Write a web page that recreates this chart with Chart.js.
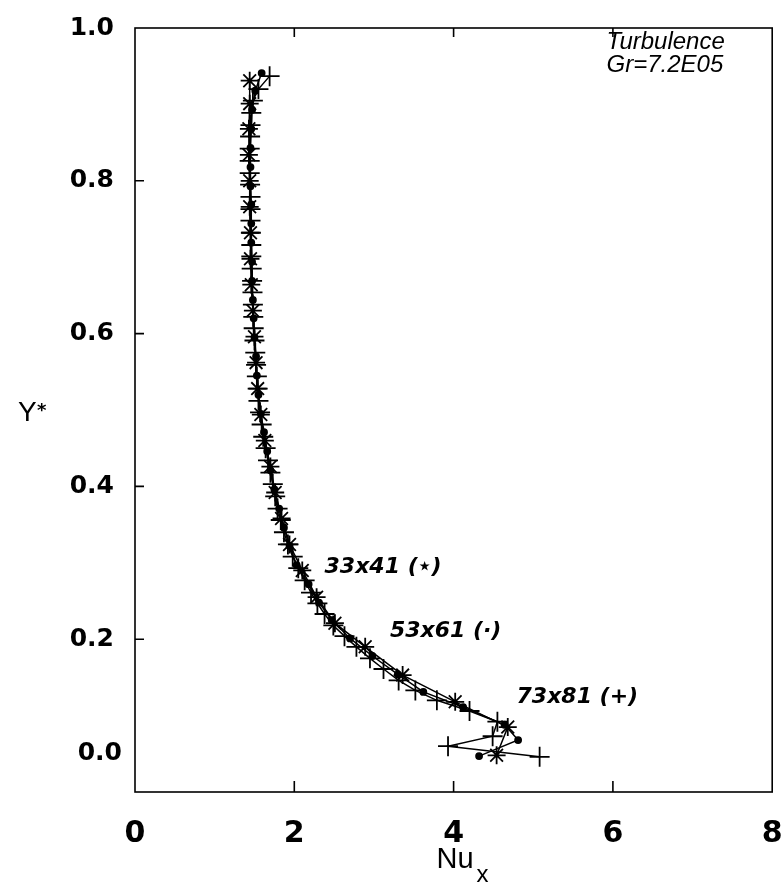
<!DOCTYPE html>
<html lang="en">
<head>
<meta charset="UTF-8" />
<title>Nu_x - Y*</title>
<script src="https://cdn.jsdelivr.net/npm/chart.js@4.4.0/dist/chart.umd.min.js"></script>
<style>
  html, body { margin: 0; padding: 0; background: #fff; }
  #grafico { display: block; }
</style>
</head>
<body>
<canvas id="grafico" width="784" height="888"></canvas>
<script>
// eje x: Nu_x, eje y: Y*
var xTicks = [0, 2, 4, 6, 8];
var yTicks = [0, 0.2, 0.4, 0.6, 0.8, 1.0];
var mallas = ["33x41 (\u22c6)", "53x61 (\u00b7)", "73x81 (+)"];

// malla 33x41 (*)
var starY = [0.048, 0.085, 0.118, 0.153, 0.190, 0.221, 0.255, 0.290, 0.324, 0.358, 0.392, 0.426, 0.460, 0.494,
  0.528, 0.562, 0.596, 0.630, 0.664, 0.698, 0.732, 0.766, 0.800, 0.834, 0.868, 0.901, 0.931];
var starNu = [4.54, 4.68, 4.02, 3.36, 2.89, 2.51, 2.28, 2.10, 1.94, 1.84, 1.76, 1.70, 1.63, 1.58,
  1.54, 1.52, 1.50, 1.48, 1.46, 1.45, 1.45, 1.44, 1.44, 1.43, 1.43, 1.44, 1.44];

// malla 53x61 (.)
var dotY = [0.047, 0.068, 0.088, 0.111, 0.131, 0.154, 0.178, 0.201, 0.225, 0.248, 0.272, 0.297, 0.322, 0.346,
  0.371, 0.396, 0.421, 0.446, 0.471, 0.495, 0.520, 0.545, 0.570, 0.595, 0.620, 0.644, 0.669, 0.694,
  0.719, 0.744, 0.769, 0.793, 0.818, 0.843, 0.868, 0.893, 0.918, 0.941];
var dotNu = [4.32, 4.81, 4.64, 4.12, 3.62, 3.30, 2.98, 2.70, 2.47, 2.31, 2.18, 2.03, 1.94, 1.87,
  1.81, 1.75, 1.70, 1.66, 1.62, 1.58, 1.55, 1.53, 1.52, 1.50, 1.49, 1.48, 1.47, 1.47,
  1.46, 1.46, 1.46, 1.45, 1.45, 1.45, 1.46, 1.47, 1.51, 1.59];

// malla 73x81 (+)
var plusY = [0.046, 0.060, 0.073, 0.092, 0.106, 0.120, 0.133, 0.146, 0.161, 0.175, 0.190, 0.204, 0.218, 0.233,
  0.247, 0.261, 0.277, 0.293, 0.308, 0.324, 0.340, 0.356, 0.371, 0.387, 0.403, 0.418, 0.434, 0.450,
  0.465, 0.481, 0.497, 0.512, 0.528, 0.544, 0.559, 0.575, 0.591, 0.607, 0.622, 0.638, 0.654, 0.669,
  0.685, 0.701, 0.716, 0.732, 0.748, 0.763, 0.779, 0.795, 0.810, 0.826, 0.842, 0.858, 0.873, 0.889,
  0.905, 0.920, 0.937];
var plusNu = [5.08, 3.93, 4.49, 4.55, 4.20, 3.79, 3.52, 3.31, 3.12, 2.95, 2.78, 2.63, 2.49, 2.38,
  2.29, 2.21, 2.13, 2.05, 1.98, 1.92, 1.87, 1.83, 1.79, 1.76, 1.73, 1.70, 1.67, 1.64,
  1.61, 1.59, 1.57, 1.55, 1.54, 1.53, 1.52, 1.51, 1.50, 1.49, 1.485, 1.48, 1.475, 1.47,
  1.465, 1.46, 1.46, 1.455, 1.45, 1.45, 1.45, 1.445, 1.44, 1.44, 1.44, 1.445, 1.45, 1.46,
  1.48, 1.55, 1.69];

function puntos(xs, ys) {
  return xs.map(function (v, i) { return { x: v, y: ys[i] }; });
}

function serie(xs, ys, estilo, radio) {
  return {
    data: puntos(xs, ys),
    showLine: true,
    borderColor: "#000",
    borderWidth: 1.5,
    tension: 0,
    pointStyle: estilo,
    pointRadius: radio,
    pointBorderColor: "#000",
    pointBackgroundColor: "#000",
    pointBorderWidth: 1.8,
  };
}

// marco, ticks hacia dentro y textos
var marco = {
  id: "marco",
  afterDatasetsDraw(chart) {
    var ctx = chart.ctx;
    var a = chart.chartArea;
    var x = chart.scales.x;
    var y = chart.scales.y;
    ctx.save();
    ctx.strokeStyle = "#000";
    ctx.lineWidth = 1.6;
    ctx.strokeRect(a.left, a.top, a.right - a.left, a.bottom - a.top);
    ctx.beginPath();
    xTicks.slice(1, -1).forEach(function (v) {
      var px = x.getPixelForValue(v);
      ctx.moveTo(px, a.bottom);
      ctx.lineTo(px, a.bottom - 11);
      ctx.moveTo(px, a.top);
      ctx.lineTo(px, a.top + 9);
    });
    yTicks.slice(1, -1).forEach(function (v) {
      var py = y.getPixelForValue(v);
      ctx.moveTo(a.left, py);
      ctx.lineTo(a.left + 9, py);
    });
    ctx.stroke();

    ctx.fillStyle = "#000";
    // etiqueta 0.0 algo levantada
    ctx.font = "bold 25px 'DejaVu Sans'";
    ctx.textAlign = "right";
    ctx.textBaseline = "middle";
    ctx.fillText("0.0", a.left - 13, y.getPixelForValue(0) - 39);

    ctx.textBaseline = "alphabetic";
    ctx.textAlign = "left";
    ctx.font = "italic 24px 'Liberation Sans'";
    ctx.fillText("Turbulence", x.getPixelForValue(5.92), y.getPixelForValue(0.973));
    ctx.fillText("Gr=7.2E05", x.getPixelForValue(5.92), y.getPixelForValue(0.943));

    ctx.font = "italic bold 22px 'DejaVu Sans'";
    ctx.fillText(mallas[0], x.getPixelForValue(2.38), y.getPixelForValue(0.286));
    ctx.fillText(mallas[1], x.getPixelForValue(3.20), y.getPixelForValue(0.203));
    ctx.fillText(mallas[2], x.getPixelForValue(4.79), y.getPixelForValue(0.116));

    // titulos de los ejes
    ctx.font = "28px 'Liberation Sans'";
    ctx.fillText("Y", 18, 421);
    ctx.font = "bold 18px 'DejaVu Sans'";
    ctx.fillText("*", 37, 416);
    var cx = (a.left + a.right) / 2;
    ctx.font = "29px 'Liberation Sans'";
    ctx.fillText("Nu", cx - 17, 868);
    ctx.font = "24px 'Liberation Sans'";
    ctx.fillText("x", cx + 23, 882);
    ctx.restore();
  },
};

new Chart(document.getElementById("grafico"), {
  type: "scatter",
  data: {
    datasets: [
      serie(starNu, starY, "star", 9),
      serie(dotNu, dotY, "circle", 3),
      serie(plusNu, plusY, "cross", 10),
    ],
  },
  options: {
    responsive: false,
    devicePixelRatio: 1,
    animation: false,
    layout: { padding: { top: 28, right: 11, left: 0, bottom: 0 } },
    plugins: {
      legend: { display: false },
      tooltip: { enabled: false },
    },
    scales: {
      x: {
        type: "linear",
        min: 0,
        max: 8,
        afterBuildTicks: function (s) {
          s.ticks = xTicks.map(function (v) { return { value: v }; });
        },
        afterFit: function (s) {
          s.height = 96;
          s.paddingLeft = 0;
          s.paddingRight = 0;
        },
        grid: { display: false },
        border: { display: false },
        ticks: {
          color: "#000",
          padding: 16,
          maxRotation: 0,
          font: { family: "DejaVu Sans", weight: "bold", size: 30 },
          callback: function (v) { return String(v); },
        },
      },
      y: {
        type: "linear",
        min: 0,
        max: 1,
        afterBuildTicks: function (s) {
          s.ticks = yTicks.map(function (v) { return { value: v }; });
        },
        afterFit: function (s) {
          s.width = 135;
          s.paddingTop = 0;
          s.paddingBottom = 0;
        },
        grid: { display: false },
        border: { display: false },
        ticks: {
          color: "#000",
          padding: 13,
          font: { family: "DejaVu Sans", weight: "bold", size: 25 },
          callback: function (v) { return v === 0 ? "" : v.toFixed(1); },
        },
      },
    },
  },
  plugins: [marco],
});
</script>
</body>
</html>
